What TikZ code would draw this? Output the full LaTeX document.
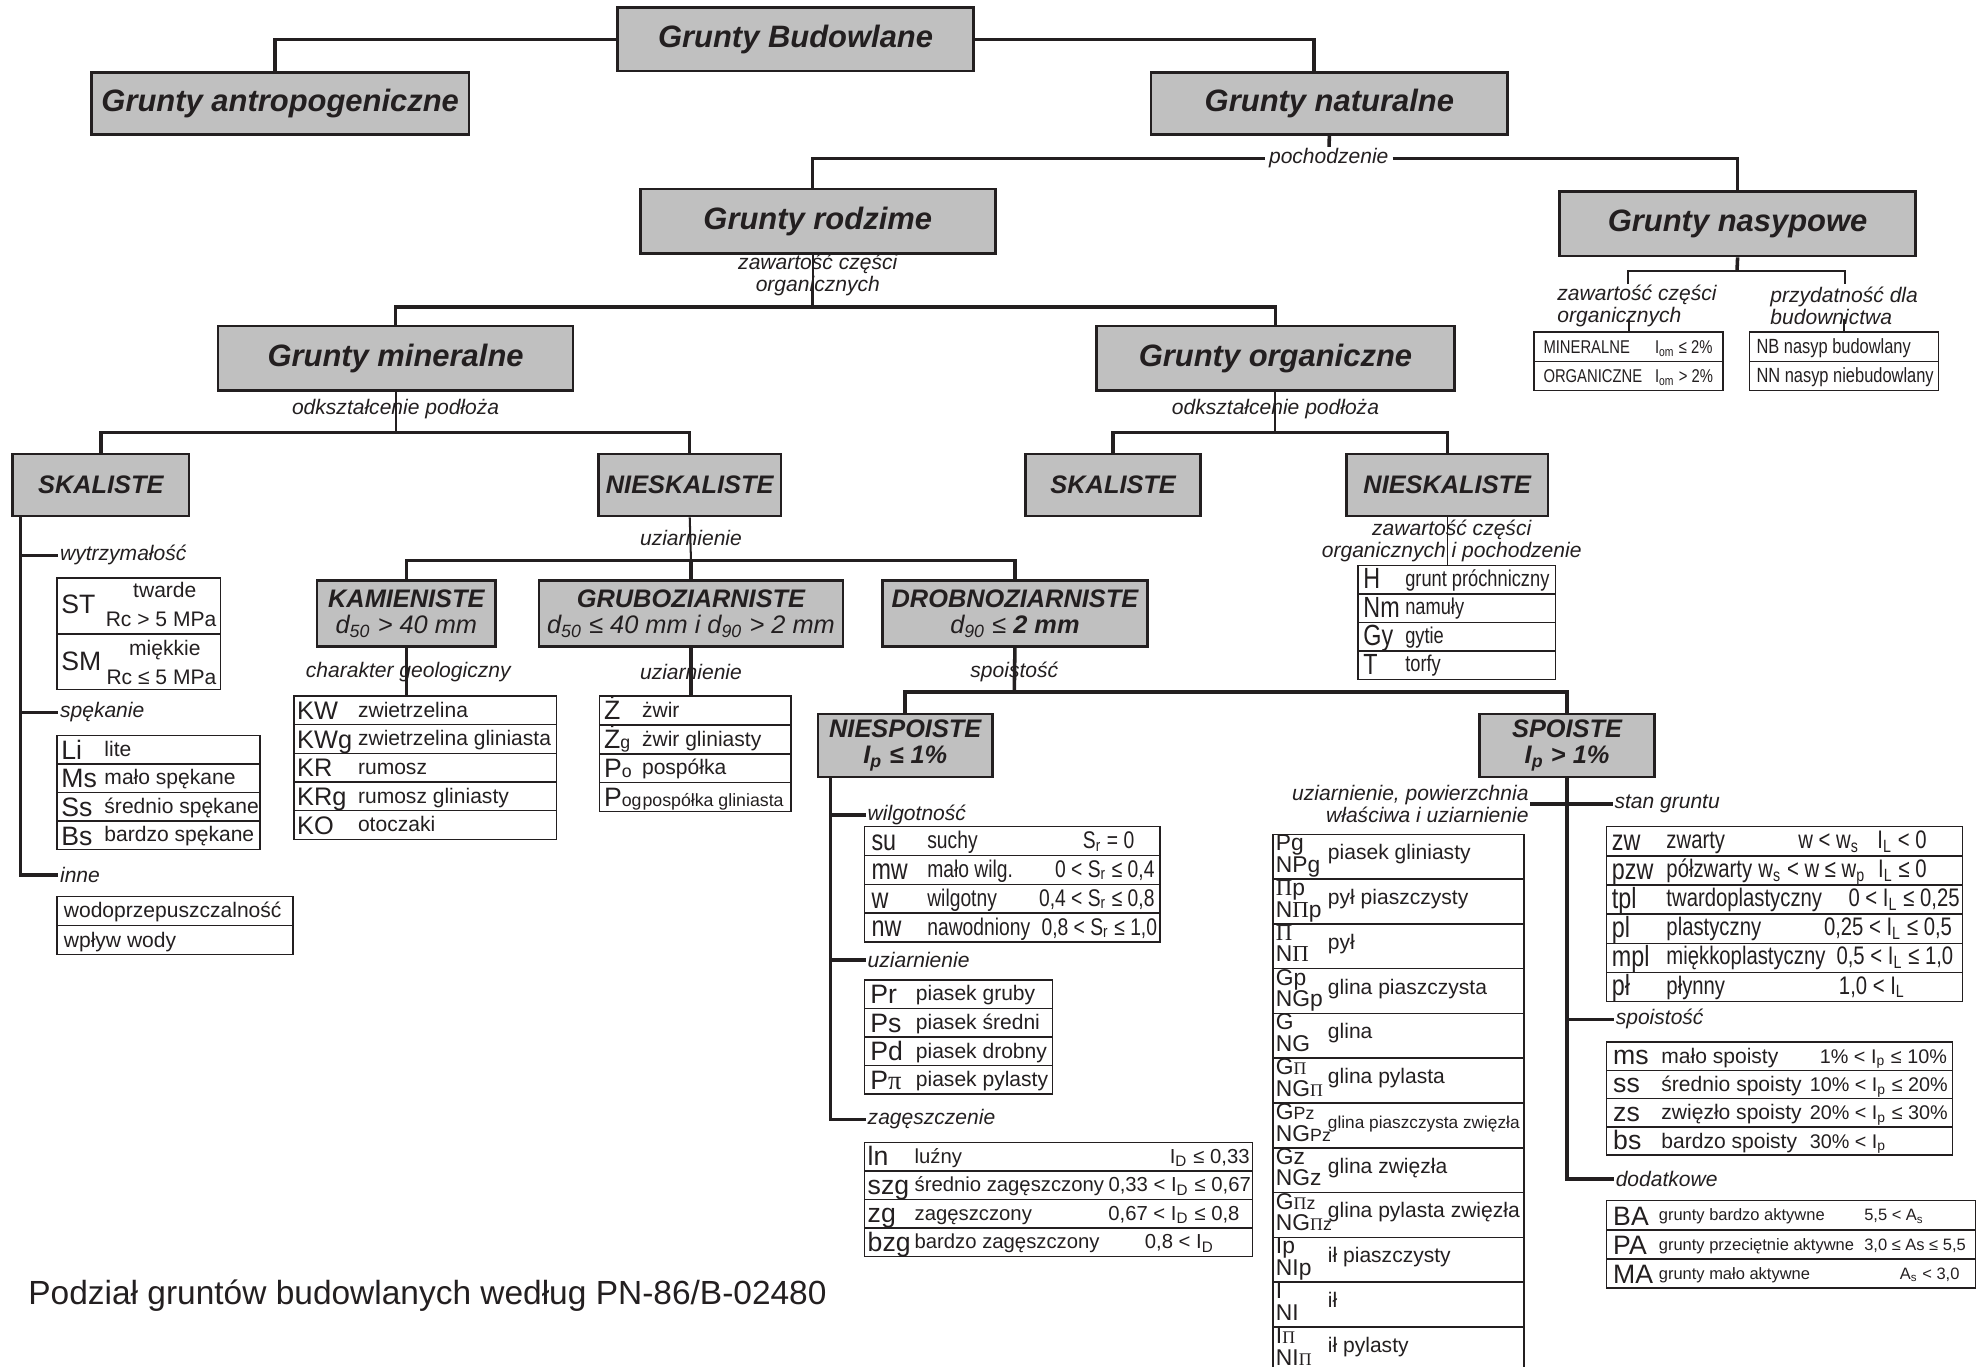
\documentclass[tikz,border=0pt]{standalone}
\usepackage{fontspec}
\setmainfont{Liberation Sans}
\newfontfamily\narrowfont{Liberation Sans}[FakeStretch=0.8]
\newfontfamily\serifgreek{Liberation Serif}
\usetikzlibrary{fit,positioning}

\definecolor{boxgray}{HTML}{C0C0C0}
\definecolor{ink}{HTML}{231F20}

\newcommand{\Pis}{{\serifgreek Π}}
\newcommand{\smalltxt}[1]{{\fontsize{7}{8}\selectfont #1}}

\tikzset{
  box/.style={draw=ink, line width=1pt, fill=boxgray, inner sep=0pt, text=ink,
    font=\fontsize{12.2}{14}\selectfont\bfseries\itshape},
  subbox/.style={box, align=center, font=\fontsize{10}{10}\selectfont\bfseries\itshape},
  conn/.style={draw=ink, line width=1.4pt},
  link/.style={draw=ink, line width=0.8pt},
  tab/.style={draw=ink, line width=0.6pt, inner sep=0pt},
  lab/.style={font=\fontsize{8.3}{7.5}\selectfont\itshape, inner sep=0.5pt, text=ink},
  code/.style={anchor=base west, inner sep=0pt, text=ink, font=\fontsize{10.5}{12}\selectfont},
  desc/.style={anchor=base west, inner sep=0pt, text=ink, font=\fontsize{8.3}{10}\selectfont},
  pcode/.style={code, font=\fontsize{9}{10}\selectfont},
  ncode/.style={code, font=\narrowfont\fontsize{11.5}{12}\selectfont},
  ndesc/.style={desc, font=\narrowfont\fontsize{9.5}{10}\selectfont},
}

\begin{document}
\begin{tikzpicture}[x=0.5pt, y=-0.5pt]
\useasboundingbox (0,0) rectangle (1568,1078);
\fill[white] (0,0) rectangle (1568,1078);

% poziom 1-2
\node[box, minimum width=140.5pt, minimum height=25pt] (bud) at (627.5,31) {Grunty Budowlane};
\node[box, minimum width=149pt, minimum height=24.5pt] (antr) at (221,81.5) {Grunty antropogeniczne};
\node[box, minimum width=140.5pt, minimum height=24.5pt] (nat) at (1048.5,81.5) {Grunty naturalne};
\draw[conn] (bud.west) -| ([xshift=-2pt]antr.north);
\draw[conn] (bud.east) -| ([xshift=-6pt]nat.north);

\node[box, minimum width=140pt, minimum height=25.5pt] (rodz) at (645,174.5) {Grunty rodzime};
\node[box, minimum width=140.5pt, minimum height=25.5pt] (nasyp) at (1370.5,176.5) {Grunty nasypowe};
\draw[conn] (nat.south) -- (1048,125);
\node[lab, fill=white, inner xsep=1.5pt] (poch) at (1048,125) {pochodzenie};
\draw[conn] (poch.west) -| ([xshift=-2pt]rodz.north);
\draw[conn] (poch.east) -| (nasyp.north);

% grunty rodzime
\coordinate (rj) at (641,242);
\node[box, minimum width=140pt, minimum height=25.5pt] (miner) at (312,282.5) {Grunty mineralne};
\node[box, minimum width=141pt, minimum height=25.5pt] (organ) at (1006,282.5) {Grunty organiczne};
\draw[link] ([xshift=-2pt]rodz.south) -- (rj);
\draw[conn] (641,229) -- (rj);
\draw[conn] (miner.north) |- (rj) -| (organ.north);
\node[lab, align=center] (rodzlab) at (645,217) {zawartość części\\organicznych};

\coordinate (mj) at (312,341);
\node[subbox, minimum width=69.5pt, minimum height=24.5pt] (skal1) at (79.5,382.5) {SKALISTE};
\node[subbox, minimum width=72pt, minimum height=24.5pt] (nieskal1) at (544,382.5) {NIESKALISTE};
\draw[link] (miner.south) -- (mj);
\draw[conn] (skal1.north) |- (mj) -| (nieskal1.north);
\node[lab] (minerlab) at (312,323) {odkształcenie podłoża};

\coordinate (oj) at (1006,341);
\node[subbox, minimum width=69pt, minimum height=24.5pt] (skal2) at (878,382.5) {SKALISTE};
\node[subbox, minimum width=79.5pt, minimum height=24.5pt] (nieskal2) at (1141.5,382.5) {NIESKALISTE};
\draw[link] (organ.south) -- (oj);
\draw[conn] (skal2.north) |- (oj) -| (nieskal2.north);
\node[lab] (organlab) at (1006,323) {odkształcenie podłoża};

% skaliste
\coordinate (skt) at (16,407);
\node[lab, anchor=west] (wytrz) at (46,438) {wytrzymałość};
\node[lab, anchor=west] (spek) at (46,562) {spękanie};
\node[lab, anchor=west] (inne) at (46,690) {inne};
\draw[conn] (skt) |- (inne.west);
\draw[conn] (skt |- wytrz.west) -- (wytrz.west);
\draw[conn] (skt |- spek.west) -- (spek.west);

\node[tab, fit={(45,456) (174,544)}] (sttab) {};
\draw[tab] (45,500) -- (174,500);
\node[code] (st) at (48,484) {ST};
\node[desc, anchor=base] (std1) at (130,471) {twarde};
\node[desc, anchor=base east] (std2) at (171,494) {Rc > 5 MPa};
\node[code] (sm) at (48,529) {SM};
\node[desc, anchor=base] (smd1) at (130,517) {miękkie};
\node[desc, anchor=base east] (smd2) at (171,540) {Rc ≤ 5 MPa};

\node[tab, fit={(45,580) (205,670)}] (litab) {};
\foreach \y in {602.5,625,647.5} \draw[tab] (45,\y) -- (205,\y);
\foreach \c/\d [count=\i from 1] in {Li/lite, Ms/mało spękane, Ss/średnio spękane, Bs/bardzo spękane} {
  \node[code] (li\i) at (48,{580+22.5*\i-3.5}) {\c};
  \node[desc] (lid\i) at (82,{580+22.5*\i-6}) {\d};
}

\node[tab, fit={(45,707) (231,753)}] (wotab) {};
\draw[tab] (45,730) -- (231,730);
\node[desc] (wo1) at (50,724) {wodoprzepuszczalność};
\node[desc] (wo2) at (50,747) {wpływ wody};

% nieskaliste (mineralne)
\coordinate (nj) at (545,442);
\node[subbox, minimum width=70.5pt, minimum height=26pt] (kam) at (320.5,484) {KAMIENISTE\\{\mdseries d\textsubscript{50} > 40 mm}};
\node[subbox, minimum width=120pt, minimum height=26pt] (grub) at (545,484) {GRUBOZIARNISTE\\{\mdseries d\textsubscript{50} ≤ 40 mm i d\textsubscript{90} > 2 mm}};
\node[subbox, minimum width=104.5pt, minimum height=26pt] (drob) at (800.5,484) {DROBNOZIARNISTE\\{\mdseries d\textsubscript{90} ≤ }2 mm};
\draw[link] (nieskal1.south) -- (nj);
\draw[conn] (kam.north) |- (nj) -| (drob.north);
\draw[conn] (nj) -- (grub.north);
\node[lab] (nieskallab) at (545,424) {uziarnienie};

\node[tab, fit={(232,549) (439,662)}] (kwtab) {};
\draw[conn] (kam.south) -- (kam.south |- kwtab.north);
\node[lab] (kamlab) at (322,530) {charakter geologiczny};
\foreach \y in {571.6,594.2,616.8,639.4} \draw[tab] (232,\y) -- (439,\y);
\foreach \c/\d [count=\i from 1] in {KW/zwietrzelina, KWg/zwietrzelina gliniasta, KR/rumosz, KRg/rumosz gliniasty, KO/otoczaki} {
  \node[code, font=\fontsize{10}{12}\selectfont] (kw\i) at (234,{549+22.6*\i-4}) {\c};
  \node[desc] (kwd\i) at (282,{549+22.6*\i-6}) {\d};
}

\node[tab, fit={(473,549) (624,640)}] (ztab) {};
\draw[conn] (grub.south) -- (grub.south |- ztab.north);
\node[lab] (grublab) at (545,530) {uziarnienie};
\foreach \y in {571.75,594.5,617.25} \draw[tab] (473,\y) -- (624,\y);
\node[code] (z1) at (476,567.75) {Ż};
\node[desc] (zd1) at (506,565.75) {żwir};
\node[code] (z2) at (476,590.5) {Ż\smalltxt{g}};
\node[desc] (zd2) at (506,588.5) {żwir gliniasty};
\node[code] (z3) at (476,613.25) {P\smalltxt{o}};
\node[desc] (zd3) at (506,611.25) {pospółka};
\node[code] (z4) at (476,636) {P\smalltxt{og}};
\node[desc, font=\fontsize{7}{8}\selectfont] (zd4) at (z4.base east) {pospółka gliniasta};

\coordinate (dj) at (800,546);
\node[subbox, minimum width=69pt, minimum height=25pt] (niesp) at (714,588) {NIESPOISTE\\I\textsubscript{p} ≤ 1\%};
\node[subbox, minimum width=69pt, minimum height=25pt] (spo) at (1236,588) {SPOISTE\\I\textsubscript{p} > 1\%};
\draw[conn] (drob.south) -- (dj);
\draw[conn] (niesp.north) |- (dj) -| (spo.north);
\node[lab] (droblab) at (800,530) {spoistość};

% niespoiste
\coordinate (nt) at (655,613);
\node[lab, anchor=west] (wilg) at (683,643) {wilgotność};
\node[lab, anchor=west] (uzi) at (683,757) {uziarnienie};
\node[lab, anchor=west] (zag) at (683,883) {zagęszczenie};
\draw[conn] (nt) |- (zag.west);
\draw[conn] (nt |- wilg.west) -- (wilg.west);
\draw[conn] (nt |- uzi.west) -- (uzi.west);

\node[tab, fit={(682,652) (915,743)}] (sutab) {};
\foreach \y in {674.75,697.5,720.25} \draw[tab] (682,\y) -- (915,\y);
\foreach \c/\d/\v/\x [count=\i from 1] in {su/suchy/{S\textsubscript{r} = 0}/895, mw/mało wilg./{0 < S\textsubscript{r} ≤ 0,4}/911, w/wilgotny/{0,4 < S\textsubscript{r} ≤ 0,8}/911, nw/nawodniony/{0,8 < S\textsubscript{r} ≤ 1,0}/913} {
  \node[ncode] (su\i) at (687,{652+22.75*\i-4}) {\c};
  \node[ndesc] (sud\i) at (731,{652+22.75*\i-5.5}) {\d};
  \node[ndesc, anchor=base east] (suv\i) at (\x,{652+22.75*\i-5.5}) {\v};
}

\node[tab, fit={(682,773) (830,863)}] (prtab) {};
\foreach \y in {795.5,818,840.5} \draw[tab] (682,\y) -- (830,\y);
\foreach \c/\d [count=\i from 1] in {Pr/piasek gruby, Ps/piasek średni, Pd/piasek drobny, P{\serifgreek π}/piasek pylasty} {
  \node[code] (pr\i) at (686,{773+22.5*\i-4}) {\c};
  \node[desc] (prd\i) at (722,{773+22.5*\i-6}) {\d};
}

\node[tab, fit={(682,901) (988,991)}] (lntab) {};
\foreach \y in {923.5,946,968.5} \draw[tab] (682,\y) -- (988,\y);
\foreach \c/\d/\v/\x [count=\i from 1] in {ln/luźny/{I\textsubscript{D} ≤ 0,33}/986, szg/średnio zagęszczony/{0,33 < I\textsubscript{D} ≤ 0,67}/987, zg/zagęszczony/{0,67 < I\textsubscript{D} ≤ 0,8}/978, bzg/bardzo zagęszczony/{0,8 < I\textsubscript{D}}/958} {
  \node[code] (ln\i) at (684,{901+22.5*\i-4}) {\c};
  \node[desc, font=\fontsize{8}{10}\selectfont] (lnd\i) at (721,{901+22.5*\i-6}) {\d};
  \node[desc, font=\fontsize{8}{10}\selectfont, anchor=base east] (lnv\i) at (\x,{901+22.5*\i-6}) {\v};
}

% spoiste
\node[lab, anchor=east, align=right] (uzlab) at (1207,634) {uziarnienie, powierzchnia\\właściwa i uziarnienie};
\node[lab, anchor=west] (stan) at (1272,634) {stan gruntu};
\node[lab, anchor=west] (spoi) at (1273,804) {spoistość};
\node[lab, anchor=west] (dod) at (1273,930) {dodatkowe};
\draw[conn] (spo.south) |- (dod.west);
\draw[conn] (uzlab.east) -- (stan.west);
\draw[conn] (spo.south |- spoi.west) -- (spoi.west);

\node[tab, fit={(1004,658) (1202,1082)}] (pgtab) {};
\foreach \i in {1,...,11} \draw[tab] (1004,{658+35.33*\i}) -- (1202,{658+35.33*\i});
\foreach \a/\b/\d [count=\i from 0] in {Pg/NPg/piasek gliniasty, {\Pis p}/{N\Pis p}/pył piaszczysty, \Pis/N\Pis/pył, Gp/NGp/glina piaszczysta, G/NG/glina, {G\smalltxt{\Pis}}/{NG\smalltxt{\Pis}}/glina pylasta, {G\smalltxt{Pz}}/{NG\smalltxt{Pz}}/{\fontsize{6.8}{8}\selectfont glina piaszczysta zwięzła}, Gz/NGz/glina zwięzła, {G\smalltxt{\Pis z}}/{NG\smalltxt{\Pis z}}/glina pylasta zwięzła, Ip/NIp/ił piaszczysty, I/NI/ił, {I\smalltxt{\Pis}}/{NI\smalltxt{\Pis}}/ił pylasty} {
  \node[pcode] (pga\i) at (1006,{658+35.33*\i+13}) {\a};
  \node[pcode] (pgb\i) at (1006,{658+35.33*\i+30}) {\b};
  \node[desc] (pgd\i) at (1047,{658+35.33*\i+20}) {\d};
}

\node[tab, fit={(1267,652) (1548,790)}] (zwtab) {};
\foreach \y in {675,698,721,744,767} \draw[tab] (1267,\y) -- (1548,\y);
\foreach \c/\d/\v/\x [count=\i from 1] in {zw/zwarty/{w < w\textsubscript{s}\enspace\ I\textsubscript{L} < 0}/1520, pzw/półzwarty/{w\textsubscript{s} < w ≤ w\textsubscript{p}\enspace I\textsubscript{L} ≤ 0}/1520, tpl/twardoplastyczny/{0 < I\textsubscript{L} ≤ 0,25}/1546, pl/plastyczny/{0,25 < I\textsubscript{L} ≤ 0,5}/1540, mpl/miękkoplastyczny/{0,5 < I\textsubscript{L} ≤ 1,0}/1541, pł/płynny/{1,0 < I\textsubscript{L}}/1503} {
  \node[ncode] (zw\i) at (1271,{652+23*\i-4.5}) {\c};
  \node[ndesc, font=\narrowfont\fontsize{10}{11}\selectfont] (zwd\i) at (1314,{652+23*\i-6}) {\d};
  \node[ndesc, font=\narrowfont\fontsize{10}{11}\selectfont, anchor=base east] (zwv\i) at (\x,{652+23*\i-6}) {\v};
}

\node[tab, fit={(1267,822) (1540,911)}] (mstab) {};
\foreach \y in {844.25,866.5,888.75} \draw[tab] (1267,\y) -- (1540,\y);
\foreach \c/\d/\v/\x [count=\i from 1] in {ms/mało spoisty/{1\% < I\textsubscript{p} ≤ 10\%}/1435, ss/średnio spoisty/{10\% < I\textsubscript{p} ≤ 20\%}/1427, zs/zwięzło spoisty/{20\% < I\textsubscript{p} ≤ 30\%}/1427, bs/bardzo spoisty/{30\% < I\textsubscript{p}}/1427} {
  \node[code] (ms\i) at (1272,{822+22.25*\i-4.5}) {\c};
  \node[desc] (msd\i) at (1310,{822+22.25*\i-5.5}) {\d};
  \node[desc, font=\fontsize{7.8}{10}\selectfont] (msv\i) at (\x,{822+22.25*\i-5.5}) {\v};
}

\node[tab, fit={(1267,947) (1558,1016)}] (batab) {};
\foreach \y in {970,993} \draw[tab] (1267,\y) -- (1558,\y);
\foreach \c/\d/\v/\x [count=\i from 1] in {BA/grunty bardzo aktywne/{5,5 < A\textsubscript{s}}/1470, PA/grunty przeciętnie aktywne/{3,0 ≤ As ≤ 5,5}/1470, MA/grunty mało aktywne/{A\textsubscript{s} < 3,0}/1498} {
  \node[code] (ba\i) at (1272,{947+23*\i-3.5}) {\c};
  \node[desc, font=\fontsize{6.5}{8}\selectfont] (bad\i) at (1308,{947+23*\i-7}) {\d};
  \node[desc, font=\fontsize{6.5}{8}\selectfont] (bav\i) at (\x,{947+23*\i-7}) {\v};
}

% nieskaliste (organiczne)
\node[tab, fit={(1071,446) (1227,536)}] (htab) {};
\draw[tab] (nieskal2.south) -- (nieskal2.south |- htab.north);
\node[lab, align=center] (nieskal2lab) at (1145,427) {zawartość części\\organicznych i pochodzenie};
\foreach \y in {468.5,491,513.5} \draw[tab] (1071,\y) -- (1227,\y);
\foreach \c/\d [count=\i from 1] in {H/grunt próchniczny, Nm/namuły, Gy/gytie, T/torfy} {
  \node[ncode] (h\i) at (1075,{446+22.5*\i-4}) {\c};
  \node[ndesc, font=\narrowfont\fontsize{9}{10}\selectfont] (hd\i) at (1108,{446+22.5*\i-6}) {\d};
}

% nasypowe
\coordinate (nsj) at (1370,214);
\coordinate (nsl) at (1284,224);
\coordinate (nsr) at (1455,224);
\draw[conn] (nasyp.south) -- (nsj);
\draw[link] (nsl) |- (nsj) -| (nsr);
\node[lab, anchor=west, align=left, font=\fontsize{8.3}{6.6}\selectfont\itshape] (naslab1) at (1227,241) {zawartość części\\organicznych};
\node[lab, anchor=west, align=left, font=\fontsize{8.3}{6.6}\selectfont\itshape] (naslab2) at (1395,241) {przydatność dla\\budownictwa};
\node[tab, fit={(1210,262) (1359,308)}] (mintab) {};
\node[tab, fit={(1380,262) (1529,308)}] (nbtab) {};
\draw[tab] (1210,285) -- (1359,285);
\draw[tab] (1380,285) -- (1529,285);
\draw[link] (mintab.north) -- ++(0,-10);
\draw[link] (nbtab.north) -- ++(0,-10);
\node[ndesc, font=\narrowfont\fontsize{7.3}{8}\selectfont] (min1) at (1217,279) {MINERALNE};
\node[ndesc, font=\narrowfont\fontsize{7.3}{8}\selectfont] (min1v) at (1305,279) {I\textsubscript{om} ≤ 2\%};
\node[ndesc, font=\narrowfont\fontsize{7.3}{8}\selectfont] (min2) at (1217,302) {ORGANICZNE};
\node[ndesc, font=\narrowfont\fontsize{7.3}{8}\selectfont] (min2v) at (1305,302) {I\textsubscript{om} > 2\%};
\node[ndesc, font=\narrowfont\fontsize{8.1}{9}\selectfont] (nb1) at (1385,279) {NB nasyp budowlany};
\node[ndesc, font=\narrowfont\fontsize{8.1}{9}\selectfont] (nb2) at (1385,302) {NN nasyp niebudowlany};

\node[anchor=west, inner sep=0pt, text=ink, font=\fontsize{13.2}{15}\selectfont] (podpis) at (22,1022) {Podział gruntów budowlanych według PN-86/B-02480};
\end{tikzpicture}
\end{document}
